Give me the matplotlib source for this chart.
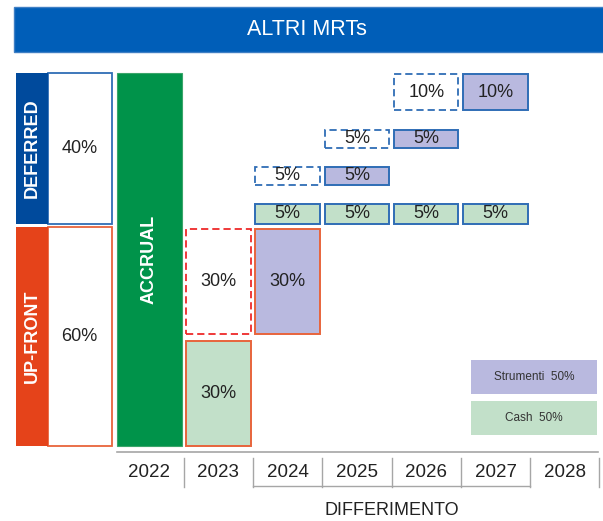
import matplotlib
matplotlib.use("Agg")
import matplotlib.pyplot as plt
from matplotlib.patches import Rectangle

plt.rcParams['font.family'] = ['Liberation Sans', 'DejaVu Sans']

# ---------------- data ----------------
title = "ALTRI MRTs"
years = [2022, 2023, 2024, 2025, 2026, 2027, 2028]
components = ["UP-FRONT", "DEFERRED"]
component_share = [60, 40]
accrual_year = 2022
accrual_label = "ACCRUAL"

upfront_cash_year = 2023
upfront_cash = 30
upfront_instr_retention_year = 2023
upfront_instr_year = 2024
upfront_instr = 30

deferred_cash_years = [2024, 2025, 2026, 2027]
deferred_cash = [5, 5, 5, 5]
deferred_instr_years = [2025, 2026, 2027]
deferred_instr = [5, 5, 10]

legend_labels = ["Strumenti 50%", "Cash 50%"]
axis_label = "DIFFERIMENTO"

# ---------------- styles ----------------
C_BANNER = "#005eb8"
C_DEF = "#004a9c"
C_UP = "#e5431a"
C_GREEN = "#00934a"
C_INSTR = "#b9b9df"
C_CASH = "#c2e0c9"
E_BLUE = "#2f6db5"
E_ORANGE = "#e8643c"
E_RED = "#ee2a2a"
TXT = "#222222"
GRID = "#a6a6a6"

fig = plt.figure(figsize=(6.03, 5.21), dpi=100)
ax = fig.add_axes([0, 0, 1, 1])
ax.set_xlim(-149 / 69.3, (603 - 149) / 69.3)
ax.set_ylim((446 - 521) / 3.73, 446 / 3.73)
ax.axis("off")

W = 0.93  # column box width
col = {y: i for i, y in enumerate(years)}


def box(i, y0, h, fc, ec, ls="-", lw=1.4, text=None, fs=13, w=W):
    ax.add_patch(Rectangle((i - w / 2, y0), w, h, facecolor=fc, edgecolor=ec,
                           linestyle=ls, linewidth=lw, zorder=2))
    if text:
        ax.text(i, y0 + h / 2, text, ha="center", va="center", fontsize=fs,
                color=TXT, zorder=3)


DASH = (0, (4, 2.2))

# banner
ax.add_patch(Rectangle((-1.948, 105.6), 8.6, 12.1, facecolor=C_BANNER,
                       edgecolor="#3f7fc4", linewidth=1, zorder=2))
ax.text(2.28, 111.7, title, ha="center", va="center", fontsize=15.5,
        color="white", zorder=3)

# left component boxes (column -1)
strip_colors = [C_UP, C_DEF]
edge_colors = [E_ORANGE, E_BLUE]
cum = 0
for k, (name, share) in enumerate(zip(components, component_share)):
    if k == 0:
        y0, h = cum, share - 1.3
    else:
        y0, h = cum - 0.5, share + 0.5
    box(-1, y0, h, "white", edge_colors[k], lw=1.3, text=f"{share}%", w=0.924)
    ax.add_patch(Rectangle((-1.92, y0), 0.46, h, facecolor=strip_colors[k],
                           edgecolor="none", zorder=2))
    ax.text(-1.69, y0 + h / 2, name, rotation=90, ha="center", va="center",
            fontsize=13, fontweight="bold", color="white", zorder=3)
    cum += share

# accrual bar
ax.add_patch(Rectangle((col[accrual_year] - 0.465, 0), 0.935, 100,
                       facecolor=C_GREEN, edgecolor="#3aa56a", linewidth=0.8, zorder=2))
ax.text(col[accrual_year], 50, accrual_label, rotation=90, ha="center",
        va="center", fontsize=13, fontweight="bold", color="white", zorder=3)

# up-front payouts
box(col[upfront_cash_year], 0, upfront_cash - 1.8, C_CASH, E_ORANGE,
    text=f"{upfront_cash}%")
box(col[upfront_instr_retention_year], upfront_cash, upfront_instr - 1.8,
    "white", E_RED, ls=DASH, lw=1.3, text=f"{upfront_instr}%")
box(col[upfront_instr_year], upfront_cash, upfront_instr - 1.8, C_INSTR,
    E_ORANGE, text=f"{upfront_instr}%")

# deferred payouts
base = component_share[0]
for y, v in zip(deferred_cash_years, deferred_cash):
    box(col[y], base - 0.4, v + 0.4, C_CASH, E_BLUE, text=f"{v}%")
for k, (y, v) in enumerate(zip(deferred_instr_years, deferred_instr)):
    y0 = base + 10 * (k + 1)
    h = v - 0.2
    box(col[y] - 1, y0, h, "white", E_BLUE, ls=DASH, lw=1.3, text=f"{v}%")
    box(col[y], y0, h, C_INSTR, E_BLUE, text=f"{v}%")

# legend boxes
leg_fc = [C_INSTR, C_CASH]
for k, lab in enumerate(legend_labels):
    y0 = 13.9 - 11.0 * k
    ax.add_patch(Rectangle((4.646, y0), 1.82, 9.2, facecolor=leg_fc[k],
                           edgecolor="none", zorder=2))
    ax.text(5.556, y0 + 4.6, lab.replace(" ", "  "), ha="center", va="center",
            fontsize=8.5, color="#333333", zorder=3)

# time axis
ax.plot([-0.46, 6.48], [-1.6, -1.6], color=GRID, lw=1.2, zorder=1)
for i in range(1, len(years) + 1):
    xs = i - 0.5
    ax.plot([xs, xs], [-3.2, -11.0], color=GRID, lw=1, zorder=1)
first_def = col[deferred_cash_years[0]] - 0.5
last_def = col[deferred_cash_years[-1]] + 0.5
ax.plot([first_def, last_def], [-10.8, -10.8], color=GRID, lw=1, zorder=1)
for y in years:
    ax.text(col[y], -7.2, str(y), ha="center", va="center", fontsize=13.5,
            color=TXT)
ax.text((first_def + last_def) / 2, -17.4, axis_label, ha="center",
        va="center", fontsize=13, color=TXT)

fig.savefig("out.png", dpi=100, facecolor="white")
